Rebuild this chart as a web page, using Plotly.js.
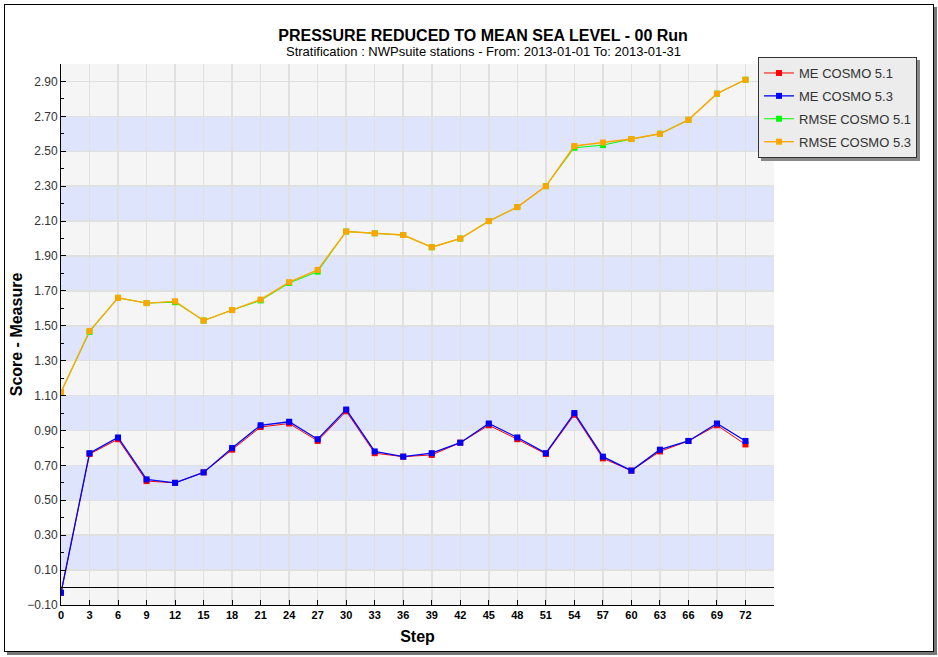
<!DOCTYPE html>
<html>
<head>
<meta charset="utf-8">
<script src="https://cdn.plot.ly/plotly-3.0.1.min.js"></script>
<style>
  html, body { margin: 0; padding: 0; background: #fff; }
  #wrap { position: relative; width: 938px; height: 657px; }
  #chart { width: 938px; height: 657px; }
  #frame { position: absolute; left: 4px; top: 4px; width: 928px; height: 646px;
           border: 1.5px solid #000; box-shadow: 3px 3px 0 #777; pointer-events: none; }
</style>
</head>
<body>
<div id="wrap">
  <div id="chart"></div>
  <div id="frame"></div>
</div>
<script>
// ---- data ----
const steps = [0, 3, 6, 9, 12, 15, 18, 21, 24, 27, 30, 33, 36, 39, 42, 45, 48, 51, 54, 57, 60, 63, 66, 69, 72];
const meCosmo51 = [-0.03, 0.765, 0.85, 0.61, 0.60, 0.66, 0.79, 0.92, 0.94, 0.84, 1.01, 0.77, 0.75, 0.76, 0.83, 0.93, 0.85, 0.765, 0.99, 0.74, 0.67, 0.78, 0.84, 0.93, 0.82];
const meCosmo53 = [-0.03, 0.77, 0.86, 0.62, 0.60, 0.66, 0.80, 0.93, 0.95, 0.85, 1.02, 0.78, 0.75, 0.77, 0.83, 0.94, 0.86, 0.77, 1.00, 0.75, 0.67, 0.79, 0.84, 0.94, 0.84];
const rmseCosmo51 = [1.12, 1.465, 1.66, 1.63, 1.635, 1.53, 1.59, 1.645, 1.745, 1.81, 2.04, 2.03, 2.02, 1.95, 2.00, 2.10, 2.18, 2.30, 2.52, 2.535, 2.57, 2.60, 2.68, 2.83, 2.91];
const rmseCosmo53 = [1.12, 1.47, 1.66, 1.63, 1.64, 1.53, 1.59, 1.65, 1.75, 1.82, 2.04, 2.03, 2.02, 1.95, 2.00, 2.10, 2.18, 2.30, 2.53, 2.55, 2.57, 2.60, 2.68, 2.83, 2.91];
const seriesNames = ["ME COSMO 5.1", "ME COSMO 5.3", "RMSE COSMO 5.1", "RMSE COSMO 5.3"];
const yTickVals = [-0.10, 0.10, 0.30, 0.50, 0.70, 0.90, 1.10, 1.30, 1.50, 1.70, 1.90, 2.10, 2.30, 2.50, 2.70, 2.90];

const colors = ["#ff0000", "#0000ff", "#00ff00", "#ffa500"];
const lineWidths = [1, 1.3, 1, 1.4];
const values = [meCosmo51, meCosmo53, rmseCosmo51, rmseCosmo53];

const traces = values.map((v, i) => ({
  x: steps, y: v, name: seriesNames[i], type: "scatter", mode: "lines+markers",
  legendgroup: "g" + i,
  line: { color: colors[i], width: lineWidths[i] },
  marker: { symbol: "square", size: 6, color: colors[i] }
}));

// alternating horizontal bands
const shapes = [];
for (let i = 0; i < yTickVals.length - 1; i++) {
  if (i % 2 === 1) {
    shapes.push({ type: "rect", xref: "paper", yref: "y", x0: 0, x1: 1,
      y0: yTickVals[i], y1: yTickVals[i + 1], fillcolor: "#dde4fb", line: { width: 0 }, layer: "below" });
  }
}

const layout = {
  width: 938, height: 657,
  margin: { l: 61, r: 164, t: 64, b: 52 },
  paper_bgcolor: "#ffffff",
  plot_bgcolor: "#f5f5f5",
  font: { family: "Liberation Sans, Arial, sans-serif", color: "#333" },
  title: {
    text: "PRESSURE REDUCED TO MEAN SEA LEVEL - 00 Run",
    font: { size: 16, weight: "bold", color: "#000" },
    xref: "container", x: 0.515, xanchor: "center",
    yref: "container", y: 1 - 35 / 657, yanchor: "middle"
  },
  annotations: [{
    text: "Stratification : NWPsuite stations - From: 2013-01-01 To: 2013-01-31",
    xref: "paper", yref: "paper", x: (483 - 61) / 713, y: (605 - 52) / 541,
    xanchor: "center", yanchor: "middle", showarrow: false,
    font: { size: 13, color: "#000" }
  }],
  xaxis: {
    range: [0, 75],
    tickvals: steps,
    ticktext: steps.map(String),
    ticks: "inside", ticklen: 5, tickcolor: "#000",
    tickfont: { size: 11, weight: "bold", color: "#000" },
    showgrid: true, gridcolor: "#e0e0e0", gridwidth: 1.5,
    showline: true, linecolor: "#000", linewidth: 1,
    zeroline: false,
    title: { text: "Step", font: { size: 16, weight: "bold", color: "#000" }, standoff: 10 },
    automargin: false
  },
  yaxis: {
    range: [-0.1, 3.0],
    tickvals: yTickVals,
    tickformat: ".2f",
    ticks: "inside", ticklen: 5, tickcolor: "#000",
    tickfont: { size: 12, color: "#333" },
    minor: { tickvals: yTickVals.map(v => v + 0.1), ticks: "inside", ticklen: 3, tickcolor: "#000", showgrid: false },
    showgrid: true, gridcolor: "#e0e0e0", gridwidth: 1.5,
    showline: true, linecolor: "#000", linewidth: 1,
    zeroline: true, zerolinecolor: "#000", zerolinewidth: 1,
    title: { text: "Score - Measure", font: { size: 16, weight: "bold", color: "#000" }, standoff: 0 },
    automargin: false
  },
  legend: {
    x: 0.9776, y: 1.0129, xanchor: "left", yanchor: "top",
    bgcolor: "#ececec", bordercolor: "#333", borderwidth: 1,
    font: { size: 13, color: "#333" },
    itemwidth: 30,
    tracegroupgap: 3
  },
  shapes: shapes,
  showlegend: true
};

Plotly.newPlot("chart", traces, layout, { displayModeBar: false, staticPlot: true }).then(gd => {
  // soft shadow under legend box, like the reference
  const bg = gd.querySelector(".legend .bg");
  if (bg) bg.style.filter = "drop-shadow(3px 3px 0 #888)";
});
</script>
</body>
</html>
